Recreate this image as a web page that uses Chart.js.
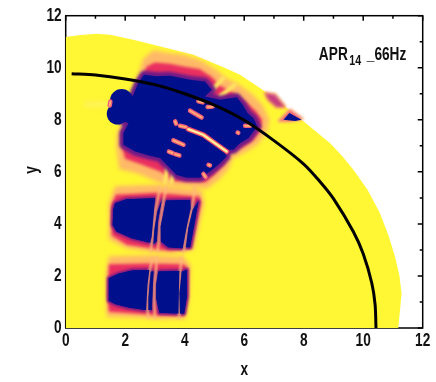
<!DOCTYPE html>
<html>
<head>
<meta charset="utf-8">
<title>APR14 _66Hz</title>
<script src="https://cdn.jsdelivr.net/npm/chart.js@4/dist/chart.umd.min.js"></script>
<style>
  html, body { margin: 0; padding: 0; background: #fff; }
  canvas { display: block; }
</style>
</head>
<body>
<canvas id="c" width="436" height="382"></canvas>
<script>
const xTicks = [0, 2, 4, 6, 8, 10, 12];
const yTicks = [0, 2, 4, 6, 8, 10, 12];
const minorTicks = [1, 3, 5, 7, 9, 11];

// all shapes are [x, y] in axis units
const domainEdge = [[0,0],[0,11.18],[0.5,11.26],[1.04,11.31],[1.49,11.27],[2.27,11.08],[2.95,10.88],[3.62,10.69],[4.29,10.5],[4.96,10.18],[5.4,9.97],[5.86,9.73],[6.53,9.22],[7.09,8.77],[7.99,7.94],[8.89,7.1],[9.3,6.6],[9.67,6.08],[10.15,5.3],[10.56,4.42],[10.85,3.55],[11.07,2.74],[11.22,2],[11.29,1.33],[11.18,0]];
const ridgeCurve = [[0.2,9.77],[1,9.72],[2,9.57],[3,9.35],[4,9.0],[5,8.56],[6,7.98],[7,7.2],[8,6.3],[8.55,5.62],[9,4.97],[9.67,3.7],[10,2.85],[10.29,1.72],[10.4,0.9],[10.43,0]];
const sourceSpots = [[1.88,8.73],[1.74,8.23]];

const upperOuter = [[2.2,8.8],[2.4,9.6],[2.6,10.35],[2.95,10.67],[3.51,10.56],[3.96,10.5],[4.52,10.3],[5.02,9.95],[5.4,9.6],[5.75,9.4],[6.25,9.0],[6.6,8.6],[6.85,8.0],[6.75,7.5],[6.45,7.05],[6.05,6.75],[5.6,6.5],[5.5,6.15],[5.15,5.7],[4.75,5.35],[3.62,5.45],[3.1,5.6],[2.4,5.95],[1.8,6.1],[1.7,6.97],[1.72,7.49],[1.95,8.0]];
const upperInner = [[2.33,8.77],[2.52,9.5],[2.72,10.05],[3.0,10.2],[3.51,10.15],[3.96,10.05],[4.5,9.95],[4.9,9.65],[5.2,9.3],[5.55,9.1],[6.05,8.7],[6.38,8.35],[6.6,8.0],[6.55,7.6],[6.3,7.2],[5.95,6.95],[5.5,6.7],[5.35,6.3],[5.0,5.9],[4.7,5.6],[3.6,5.65],[3.2,6.0],[2.5,6.3],[2.0,6.5],[1.88,7.0],[1.88,7.5],[2.05,8.0]];
const upperCore = [[2.22,8.83],[2.44,9.41],[2.63,9.73],[3.06,9.67],[3.51,9.69],[4.18,9.54],[4.68,9.47],[4.91,9.15],[4.68,8.9],[5.19,8.77],[5.75,8.87],[5.95,8.58],[6.11,8.26],[6.31,8.06],[6.44,7.74],[6.31,7.55],[6.14,7.29],[5.86,7.1],[5.64,6.85],[5.3,6.85],[5.41,6.59],[5.19,6.33],[4.85,6.01],[4.52,5.77],[4.07,5.77],[3.73,5.88],[3.45,6.21],[3.17,6.53],[2.83,6.62],[2.33,6.78],[1.94,7.04],[1.94,7.49],[2.11,7.87],[1.83,8.0],[2.0,8.77]];

const midOuter = [[1.66,5.45],[3.0,5.5],[4.57,5.3],[4.66,4.8],[4.3,3.0],[3.6,2.85],[3.06,2.9],[2.05,3.05],[1.45,3.4],[1.45,4.8]];
const midInner = [[1.68,5.12],[3.0,5.2],[4.5,5.05],[4.55,4.8],[4.22,3.05],[3.5,2.97],[3.06,3.03],[2.05,3.2],[1.55,3.55],[1.53,4.7]];
const midCores = [
  [[1.66,4.79],[2.04,4.95],[3.0,4.99],[2.89,3.51],[2.84,3.28],[2.22,3.45],[1.71,3.71],[1.58,3.96],[1.6,4.54]],
  [[3.23,4.92],[3.11,4.15],[3.06,3.32],[2.95,3.23],[2.98,3.77],[3.08,4.47]],
  [[3.37,4.9],[4.18,4.92],[4.2,4.6],[4.07,3.9],[3.93,3.06],[3.45,3.1],[3.2,3.32],[3.19,3.9]],
  [[4.46,4.86],[4.35,4.15],[4.18,3.1],[4.04,3.1],[4.12,3.83],[4.27,4.54]]
];
const lowOuter = [[1.45,2.76],[2.8,2.8],[3.96,2.74],[4.2,2.4],[4.16,1.2],[4.04,0.36],[3.1,0.34],[2.7,0.38],[1.38,0.42],[1.34,1.97]];
const lowInner = [[1.45,2.45],[2.8,2.48],[3.96,2.45],[4.12,2.3],[4.1,1.2],[3.98,0.47],[3.1,0.48],[2.75,0.52],[1.45,0.62],[1.4,1.2]];
const lowCores = [
  [[1.45,1.91],[1.77,2.08],[2.22,2.21],[2.81,2.23],[2.75,1.65],[2.7,0.69],[2.11,0.79],[1.66,0.92],[1.45,1.05]],
  [[2.86,2.17],[2.95,2.17],[2.92,1.33],[2.89,0.69],[2.78,0.69],[2.78,1.14]],
  [[3.11,2.17],[3.82,2.19],[3.79,0.56],[3.15,0.59],[3.04,1.14],[3.04,1.65]],
  [[3.9,2.17],[4.07,2.23],[4.07,1.2],[3.98,0.56],[3.84,0.56],[3.82,1.33]]
];
const blockGaps = [
  [[2.92,2.72],[2.83,2.23],[2.76,1.65],[2.75,0.69],[2.78,0.37]],
  [[3.06,2.72],[3.03,2.17],[2.98,1.65],[2.97,1.14],[3.0,0.37]],
  [[3.9,2.72],[3.85,2.17],[3.82,1.33],[3.81,0.37]],
  [[3.17,5.44],[3.08,4.86],[3.01,4.47],[2.94,3.77],[2.89,3.26],[2.86,2.94]],
  [[3.39,5.44],[3.29,4.92],[3.16,3.96],[3.13,3.32],[3.09,2.94]],
  [[4.35,5.44],[4.24,4.56],[4.09,3.87],[3.99,3.09],[3.96,2.9]]
];
const rayGaps = [
  [[4.79,8.99],[5.3,9.6]],
  [[5.19,8.9],[5.69,9.35]],
  [[3.45,6.4],[3.34,5.6]],
  [[3.68,6.4],[3.56,5.6]]
];
const edgeStreak = [[6.7,9.03],[7.04,8.96],[7.37,8.49],[7.09,8.49],[6.81,8.77]];
const tipHalo = [[7.15,7.94],[7.54,8.4],[7.97,8.03],[7.54,7.94]];
const tipCore = [[7.32,8.0],[7.52,8.26],[7.93,8.0],[7.71,7.95]];

const longStreak = [[4.12,7.64],[4.63,7.42],[5.08,7.05],[5.41,6.78]];
const shortDashes = [
  [[4.18,8.35],[4.57,8.09]],
  [[3.62,7.21],[3.96,7.04]],
  [[3.47,6.78],[3.6,6.72]],
  [[3.68,6.68],[3.82,6.63]],
  [[3.84,7.77],[4.04,7.72]],
  [[3.68,7.94],[3.71,7.85]],
  [[4.46,8.71],[4.61,8.67]],
  [[4.77,8.49],[4.94,8.51]],
  [[6.03,7.77],[6.2,7.77]],
  [[5.78,7.51],[5.8,7.5]],
  [[4.8,6.27],[4.85,6.25]],
  [[4.63,5.92],[4.7,5.8]],
  [[1.48,8.55],[1.5,8.7]]
];
const leftSmudge = [[0.7,8.6],[1.4,8.6]];

const YELLOW = '#fff733';
const NAVY = '#00108c';
const SALMON = '#f4607c';

function poly(points, look) {
  return { type: 'scatter', data: points.map(p => ({ x: p[0], y: p[1] })), look: look, pointRadius: 0 };
}

const outerLook = { fill: '#ffb868', blur: 2.2 };
const innerLook = { fill: '#ea2f60', blur: 1.4 };
const coreLook = { fill: NAVY, stroke: '#6c1a88', width: 8, blur: 1.8, crisp: true };
const sliverLook = { fill: NAVY, stroke: '#7c1a80', width: 4, blur: 1, crisp: true };

// paint order, reversed below because Chart.js draws the first dataset last
const layers = [
  poly(domainEdge, { fill: YELLOW }),
  poly(leftSmudge, { stroke: '#fff35a', width: 6, blur: 2.5, open: true }),
  poly(upperOuter, outerLook),
  poly(upperInner, innerLook),
  poly(midOuter, outerLook),
  poly(midInner, innerLook),
  poly(lowOuter, outerLook),
  poly(lowInner, innerLook),
  poly(edgeStreak, { fill: '#c83c80', stroke: '#ffb060', width: 3, blur: 1.5 }),
  poly(tipHalo, { fill: SALMON, stroke: '#ffc070', width: 2, blur: 1.5 })
];
midCores.concat(lowCores).forEach(s => layers.push(poly(s, sliverLook)));
blockGaps.forEach(g => layers.push(poly(g, { stroke: '#ffb87a', width: 2.2, blur: 0.8, open: true })));
rayGaps.forEach(g => layers.push(poly(g, { stroke: '#ffe060', width: 4.5, blur: 1.2, open: true })));
layers.push(poly(upperCore, coreLook));
midCores.concat(lowCores).forEach(s => layers.push(poly(s, { fill: NAVY })));
layers.push(poly(tipCore, { fill: NAVY }));
layers.push({
  type: 'scatter',
  data: sourceSpots.map(p => ({ x: p[0], y: p[1] })),
  pointRadius: [11.7, 10.7],
  pointBackgroundColor: NAVY,
  pointBorderWidth: 0
});
layers.push(poly(longStreak, { stroke: '#f04a68', width: 5, blur: 0.6, open: true }));
layers.push(poly(longStreak, { stroke: '#ffef9a', width: 2.5, blur: 0.4, open: true }));
shortDashes.forEach(d => {
  layers.push(poly(d, { stroke: '#f2607a', width: 4.5, blur: 0.5, open: true }));
  layers.push(poly(d, { stroke: '#ffb070', width: 1.8, blur: 0.4, open: true }));
});
layers.push({
  type: 'scatter',
  data: ridgeCurve.map(p => ({ x: p[0], y: p[1] })),
  showLine: true,
  borderColor: '#000',
  borderWidth: 3,
  tension: 0.3,
  pointRadius: 0
});

const polyPlugin = {
  id: 'polyPlugin',
  beforeDatasetDraw(chart, args) {
    const look = chart.data.datasets[args.index].look;
    if (!look) return;
    const ctx = chart.ctx, area = chart.chartArea;
    const trace = () => {
      ctx.beginPath();
      args.meta.data.forEach((pt, i) => i ? ctx.lineTo(pt.x, pt.y) : ctx.moveTo(pt.x, pt.y));
      if (!look.open) ctx.closePath();
    };
    ctx.save();
    ctx.beginPath();
    ctx.rect(area.left, area.top, area.right - area.left, area.bottom - area.top);
    ctx.clip();
    ctx.lineJoin = 'round';
    ctx.lineCap = 'round';
    if (look.blur) ctx.filter = 'blur(' + look.blur + 'px)';
    trace();
    if (look.stroke) {
      ctx.strokeStyle = look.stroke;
      ctx.lineWidth = look.width;
      ctx.stroke();
    }
    if (look.fill && !look.crisp) {
      ctx.fillStyle = look.fill;
      ctx.fill();
    }
    ctx.filter = 'none';
    if (look.crisp) {
      ctx.fillStyle = look.fill;
      ctx.fill();
    }
    ctx.restore();
    return false;
  }
};

// Helvetica-narrow look of the original, no narrow font is installed
function squeezed(ctx, text, x, y, size, align, turn) {
  ctx.save();
  ctx.translate(x, y);
  if (turn) ctx.rotate(-Math.PI / 2);
  ctx.scale(0.76, 1);
  ctx.font = 'bold ' + size + 'px "Liberation Sans"';
  ctx.textAlign = align;
  ctx.textBaseline = 'alphabetic';
  ctx.fillStyle = '#111';
  ctx.fillText(text, 0, 0);
  ctx.restore();
}

// frame and inward ticks go under the image, the yellow hides them on the left and bottom
const framePlugin = {
  id: 'framePlugin',
  beforeDatasetsDraw(chart) {
    const ctx = chart.ctx, a = chart.chartArea, sx = chart.scales.x, sy = chart.scales.y;
    ctx.save();
    ctx.strokeStyle = '#000';
    ctx.lineWidth = 1.5;
    ctx.strokeRect(a.left, a.top, a.right - a.left, a.bottom - a.top);
    const tick = (v, len) => {
      const px = sx.getPixelForValue(v), py = sy.getPixelForValue(v);
      ctx.beginPath();
      ctx.moveTo(px, a.top); ctx.lineTo(px, a.top + len);
      ctx.moveTo(a.right, py); ctx.lineTo(a.right - len, py);
      ctx.stroke();
    };
    xTicks.forEach(v => tick(v, 5));
    minorTicks.forEach(v => tick(v, 3));
    ctx.restore();
  },
  afterDraw(chart) {
    const ctx = chart.ctx, a = chart.chartArea, sx = chart.scales.x, sy = chart.scales.y;
    xTicks.forEach(v => squeezed(ctx, String(v), sx.getPixelForValue(v), a.bottom + 18, 18, 'center'));
    yTicks.forEach(v => squeezed(ctx, String(v), a.left - 4, sy.getPixelForValue(v) + 5, 18, 'right'));
    squeezed(ctx, 'x', sx.getPixelForValue(6), a.bottom + 47, 18, 'center');
    squeezed(ctx, 'y', 37, sy.getPixelForValue(6) - 2, 18, 'center', true);
    squeezed(ctx, 'APR', sx.getPixelForValue(8.51), sy.getPixelForValue(10.31), 18, 'left');
    squeezed(ctx, '14', sx.getPixelForValue(9.53), sy.getPixelForValue(10.12), 14, 'left');
    squeezed(ctx, '_66Hz', sx.getPixelForValue(10.12), sy.getPixelForValue(10.31), 18, 'left');
  }
};

new Chart(document.getElementById('c'), {
  type: 'scatter',
  data: { datasets: layers.reverse() },
  options: {
    responsive: false,
    animation: false,
    layout: { padding: { top: 15.7, right: 13.3, left: 0, bottom: 0 } },
    plugins: { legend: { display: false }, tooltip: { enabled: false } },
    scales: {
      x: {
        type: 'linear', min: 0, max: 12,
        afterFit(s) { s.height = 54; },
        grid: { display: false },
        border: { display: false },
        ticks: { display: false }
      },
      y: {
        type: 'linear', min: 0, max: 12,
        afterFit(s) { s.width = 65.7; },
        grid: { display: false },
        border: { display: false },
        ticks: { display: false }
      }
    }
  },
  plugins: [polyPlugin, framePlugin]
});
</script>
</body>
</html>
